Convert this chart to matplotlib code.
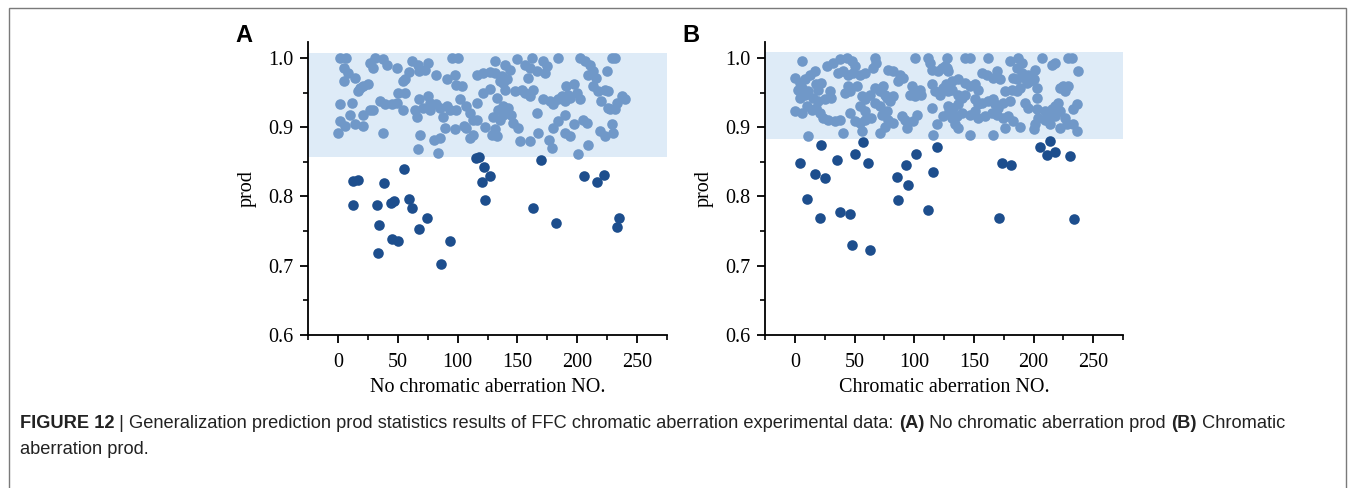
import numpy as np
import matplotlib
matplotlib.use("Agg")
import matplotlib.pyplot as plt
from matplotlib.patches import Rectangle
from matplotlib.ticker import MultipleLocator

# ---- data ----
a_light = [(1.7, 1.0), (6.7, 1.0), (5, 0.986), (8.6, 0.978), (14, 0.971), (5, 0.966),
           (27, 0.993), (31, 1.0), (38, 0.998), (41, 0.99), (49, 0.986), (29.5, 0.986),
           (18.4, 0.957), (21, 0.959), (25, 0.962), (17, 0.952),
           (61.5, 0.995), (67, 0.99), (75, 0.993), (72.5, 0.983), (68, 0.981), (59, 0.979),
           (56, 0.969), (54, 0.967), (82, 0.975), (91, 0.969), (95, 1.0), (100, 1.0),
           (98, 0.975), (99, 0.961), (104, 0.959), (116, 0.976), (121.5, 0.978), (127, 0.98),
           (50, 0.95), (56, 0.95), (68, 0.94), (75, 0.945), (77, 0.935), (82, 0.933),
           (1.7, 0.933), (11.4, 0.935), (35, 0.938), (39.5, 0.933), (45, 0.933), (49, 0.935),
           (54, 0.925), (27, 0.925), (21, 0.918), (29.5, 0.925),
           (64.5, 0.925), (66, 0.915), (71, 0.928), (77, 0.925), (85, 0.928), (91, 0.93),
           (93.6, 0.925), (88, 0.915), (102, 0.94), (107, 0.93), (110, 0.92), (113, 0.91),
           (105, 0.902), (99, 0.925), (116, 0.935), (121.5, 0.95), (127, 0.955),
           (1.7, 0.909), (6, 0.902), (10, 0.918), (14, 0.904), (21, 0.902),
           (0.3, 0.891), (38, 0.891), (68.5, 0.889), (67, 0.869),
           (80, 0.882), (85.5, 0.884), (89.5, 0.899), (98, 0.897), (107, 0.899), (110, 0.884),
           (113, 0.889), (84, 0.863), (116, 0.911), (123, 0.901),
           (131, 0.995), (139.6, 0.99), (143.8, 0.983), (149.4, 0.998), (156.4, 0.99), (162, 1.0),
           (171.7, 0.995), (174.5, 0.988), (184, 1.0),
           (202, 1.0), (206.5, 0.995), (210.7, 0.99), (213.5, 0.981), (209, 0.976), (216, 0.971),
           (224.6, 0.981), (228.8, 1.0), (231.6, 1.0),
           (131, 0.978), (137, 0.974), (141, 0.969), (138, 0.964), (135.5, 0.966),
           (160.5, 0.986), (166, 0.981), (159, 0.971), (173, 0.978),
           (139.6, 0.954), (148, 0.952), (153.6, 0.954), (156.4, 0.95), (163, 0.954), (160.5, 0.945),
           (132.7, 0.942), (138, 0.93), (142.4, 0.928), (145, 0.918), (138, 0.918), (134, 0.925),
           (130, 0.915), (135.5, 0.911),
           (171.7, 0.94), (177, 0.938), (184, 0.94), (187, 0.945), (191, 0.959), (197, 0.962),
           (199.6, 0.95), (202, 0.94), (194, 0.942), (190, 0.938), (192.6, 0.947),
           (213.5, 0.959), (217.7, 0.952), (223, 0.954), (226, 0.952), (220, 0.938), (226, 0.928),
           (233, 0.935), (237, 0.945), (231.6, 0.926), (227.4, 0.926), (240, 0.941),
           (166, 0.921), (180, 0.933), (190, 0.918),
           (146.6, 0.906), (150.8, 0.899), (131, 0.897), (128.5, 0.889), (132.7, 0.887),
           (167.5, 0.891), (180, 0.899), (184, 0.909), (190, 0.891), (194, 0.887), (197, 0.904),
           (205, 0.911), (208, 0.906), (219, 0.894), (223, 0.887), (230, 0.891), (228.8, 0.904),
           (152, 0.88), (160.5, 0.88), (176, 0.882), (178.7, 0.87), (209, 0.875), (201, 0.861)]

a_dark = [(12.3, 0.787), (12.8, 0.823), (17, 0.824), (32.3, 0.787), (34.5, 0.759), (33.2, 0.719),
          (38.7, 0.82), (44, 0.791), (46.8, 0.793), (44.9, 0.738), (50.4, 0.735), (55, 0.84),
          (59.1, 0.796), (62.1, 0.784), (68, 0.753), (74.1, 0.769), (85.8, 0.703), (93.6, 0.736),
          (115.4, 0.856), (118, 0.857), (122.4, 0.842), (126.8, 0.829), (120.7, 0.821), (122.9, 0.795),
          (162.8, 0.784), (170, 0.852), (182, 0.761), (206, 0.829), (216.6, 0.821), (222.2, 0.831),
          (235, 0.769), (233.6, 0.756)]

b_light = [(6.4, 0.995), (0, 0.971), (4.2, 0.964), (8.4, 0.969), (12.6, 0.976), (16.8, 0.981),
           (2.8, 0.954), (5.6, 0.957), (8.4, 0.947), (4.2, 0.942),
           (26.6, 0.988), (32, 0.993), (37.7, 0.998), (43.3, 1.0), (47.5, 0.995), (50, 0.988),
           (40.5, 0.981), (44.7, 0.976), (49, 0.978), (36.3, 0.978),
           (67, 1.0), (68, 0.993), (65.7, 0.986), (58.6, 0.978), (54.5, 0.976),
           (78.3, 0.983), (82.5, 0.981), (88, 0.976), (91, 0.971), (86.6, 0.966),
           (100.6, 1.0), (112, 1.0), (113, 0.993), (114.7, 0.983), (120, 0.981), (123, 0.986), (126, 0.988),
           (18, 0.962), (22.3, 0.964), (19.5, 0.954),
           (11.2, 0.952), (15.4, 0.942), (19.5, 0.938), (25, 0.94), (29.4, 0.952), (30.7, 0.942),
           (44.7, 0.959), (51.7, 0.959), (42, 0.95), (46, 0.952),
           (56, 0.945), (58.6, 0.94), (62.8, 0.947),
           (67, 0.957), (71, 0.952), (74, 0.959), (75.5, 0.947), (76.9, 0.942), (79.7, 0.938), (82.5, 0.945),
           (97.8, 0.959), (102, 0.952), (104.8, 0.954), (106, 0.947), (100.6, 0.945), (96.5, 0.947),
           (114.7, 0.962), (117.5, 0.952), (121.6, 0.947), (124.5, 0.957), (127, 0.962),
           (67, 0.935), (71, 0.93), (76.9, 0.923),
           (0, 0.923), (5.6, 0.921), (9.8, 0.93), (14, 0.925), (18, 0.928), (21, 0.921), (23.6, 0.913),
           (28, 0.911), (33.5, 0.909), (37.7, 0.911),
           (46, 0.921), (54.5, 0.93), (58.6, 0.923), (64, 0.913), (58.6, 0.911), (54.5, 0.906), (50, 0.909),
           (72.7, 0.918), (78.3, 0.911), (82.5, 0.906), (75.5, 0.901),
           (89.5, 0.916), (92.3, 0.911), (93.7, 0.899), (99, 0.909), (102, 0.918),
           (114.7, 0.928), (118.8, 0.904), (124.5, 0.916), (129, 0.923),
           (11.2, 0.887), (40.5, 0.891), (56, 0.894), (71, 0.891), (116, 0.889),
           (127.2, 1.0), (142.6, 1.0), (146.8, 1.0), (162.2, 1.0), (180.3, 0.995), (187.3, 1.0),
           (190, 0.993), (206.9, 1.0), (215.3, 0.99), (218, 0.993), (229.3, 1.0), (232, 1.0),
           (127.2, 0.986), (128.6, 0.981), (131.4, 0.966), (137, 0.969),
           (156.6, 0.978), (160.8, 0.976), (166.3, 0.971), (169.1, 0.981), (172, 0.969),
           (186, 0.986), (190, 0.978), (193, 0.971), (195.7, 0.976), (197, 0.966), (200, 0.969),
           (194.3, 0.964), (201.3, 0.983), (183.1, 0.971), (186, 0.969), (237.7, 0.981),
           (142.6, 0.964), (146.8, 0.959), (151, 0.962), (153.8, 0.954),
           (128.6, 0.952), (131.4, 0.954), (137, 0.947), (139.8, 0.942), (142.6, 0.947),
           (176.1, 0.952), (181.7, 0.954), (186, 0.952), (188.7, 0.957),
           (202.7, 0.957), (202.7, 0.942),
           (222.3, 0.957), (225, 0.959), (229.3, 0.959), (226.5, 0.952),
           (151, 0.94), (153.8, 0.933), (156.6, 0.935), (162.2, 0.938), (166.3, 0.94), (167.7, 0.933),
           (170.5, 0.928), (174.7, 0.935), (180.3, 0.938),
           (128.6, 0.93), (132.8, 0.928), (137, 0.933), (139.8, 0.921), (135.6, 0.916), (131.4, 0.913),
           (134.2, 0.904), (137, 0.899),
           (146.8, 0.918), (151, 0.923), (153.8, 0.913), (159.4, 0.916), (165, 0.921), (169.1, 0.918),
           (174.7, 0.913), (178.9, 0.916), (183.1, 0.909),
           (193, 0.935), (195.7, 0.928), (202.7, 0.926), (209.7, 0.923), (215.3, 0.926), (218, 0.93),
           (220.9, 0.935),
           (204.1, 0.913), (209.7, 0.911), (212.5, 0.918), (218, 0.916), (222.3, 0.923), (226.5, 0.913),
           (228, 0.904), (233.5, 0.904), (236.3, 0.933), (233.5, 0.926), (236.3, 0.894),
           (146.8, 0.889), (166.3, 0.889), (176.1, 0.899), (188.7, 0.901), (200, 0.897), (201.3, 0.904),
           (214, 0.904), (222.3, 0.899)]

b_dark = [(4.5, 0.848), (9.8, 0.796), (16.5, 0.832), (21.8, 0.874), (25.4, 0.826), (20.7, 0.769),
          (35.5, 0.852), (37.8, 0.777), (45.9, 0.774), (47.6, 0.73), (50.3, 0.861), (56.8, 0.878),
          (61, 0.848), (62.6, 0.722), (85.3, 0.828), (86.7, 0.795), (92.9, 0.845), (94.8, 0.817),
          (101.8, 0.861), (111.6, 0.781), (116, 0.835), (118.9, 0.871), (171.1, 0.769), (173.9, 0.848),
          (181, 0.845), (205.8, 0.871), (211.4, 0.86), (213.9, 0.88), (218.4, 0.864), (231, 0.858),
          (234.3, 0.767)]

a_band = (0.857, 1.007)
b_band = (0.883, 1.009)
xticks = [0, 50, 100, 150, 200, 250]
yticks = [0.6, 0.7, 0.8, 0.9, 1.0]

LIGHT = '#7098c8'
DARK = '#1d4e8d'
BAND = '#deebf7'

fig = plt.figure(figsize=(13.55, 4.88), dpi=100)
W, H = 1355, 488

# border box around the figure
fig.patches.append(Rectangle((9 / W, -0.1), 1337 / W, (H - 8) / H + 0.1,
                             transform=fig.transFigure, fill=False,
                             edgecolor='#7a7a7a', lw=1.0))

serif = 'Liberation Serif'


def panel(rect, light, dark, band, xlabel):
    ax = fig.add_axes(rect)
    ax.axhspan(band[0], band[1], color=BAND, lw=0, zorder=0)
    lx, ly = np.array(light).T
    dx, dy = np.array(dark).T
    ax.scatter(lx, ly, s=58, color=LIGHT, lw=0, zorder=2)
    ax.scatter(dx, dy, s=58, color=DARK, lw=0, zorder=2)
    ax.set_xlim(-25, 275)
    ax.set_ylim(0.6, 1.023)
    ax.set_xticks(xticks)
    ax.set_yticks(yticks)
    ax.set_yticklabels(['%.1f' % v for v in yticks])
    ax.xaxis.set_minor_locator(MultipleLocator(25))
    ax.yaxis.set_minor_locator(MultipleLocator(0.05))
    for s in ['top', 'right']:
        ax.spines[s].set_visible(False)
    for s in ['left', 'bottom']:
        ax.spines[s].set_linewidth(1.3)
    ax.tick_params(which='major', direction='out', length=5.5, width=1.3, labelsize=14.5)
    ax.tick_params(axis='x', which='major', pad=7.5)
    ax.tick_params(axis='y', which='major', pad=5)
    ax.tick_params(which='minor', direction='out', length=3.5, width=1.2)
    for lab in ax.get_xticklabels() + ax.get_yticklabels():
        lab.set_fontfamily(serif)
    ax.set_xlabel(xlabel, fontsize=14.5, family=serif, labelpad=4)
    ax.set_ylabel('prod', fontsize=14.5, family=serif, labelpad=8)
    return ax


axA = panel([308 / W, 1 - 335 / H, 359 / W, 293 / H], a_light, a_dark, a_band,
            'No chromatic aberration NO.')
axB = panel([765 / W, 1 - 335 / H, 358 / W, 293 / H], b_light, b_dark, b_band,
            'Chromatic aberration NO.')

fig.text(235 / W, 1 - 36 / H, 'A', fontsize=17, fontweight='bold', family='Liberation Sans',
         ha='left', va='center')
fig.text(682 / W, 1 - 36 / H, 'B', fontsize=17, fontweight='bold', family='Liberation Sans',
         ha='left', va='center')

# caption, made of bold and normal pieces
line1 = [('FIGURE 12', 'bold'), (' | Generalization prediction prod statistics results of FFC '
                                 'chromatic aberration experimental data: ', 'normal'),
         ('(A)', 'bold'), (' No chromatic aberration prod ', 'normal'),
         ('(B)', 'bold'), (' Chromatic', 'normal')]
line2 = [('aberration prod.', 'normal')]

renderer = fig.canvas.get_renderer()


def place(pieces, x0, y, size):
    x = x0
    out = []
    for txt, wt in pieces:
        t = fig.text(x / W, 1 - y / H, txt, fontsize=size, fontweight=wt,
                     family='Liberation Sans', color='#222222', ha='left', va='center')
        w = t.get_window_extent(renderer).width
        out.append(t)
        x += w
    return out, x - x0


tmp, width = place(line1, 20, 423, 12)
for t in tmp:
    t.remove()
size = 12 * 1272 / width
place(line1, 20, 424, size)
place(line2, 20, 450, size)

fig.savefig('out.png', dpi=100)
